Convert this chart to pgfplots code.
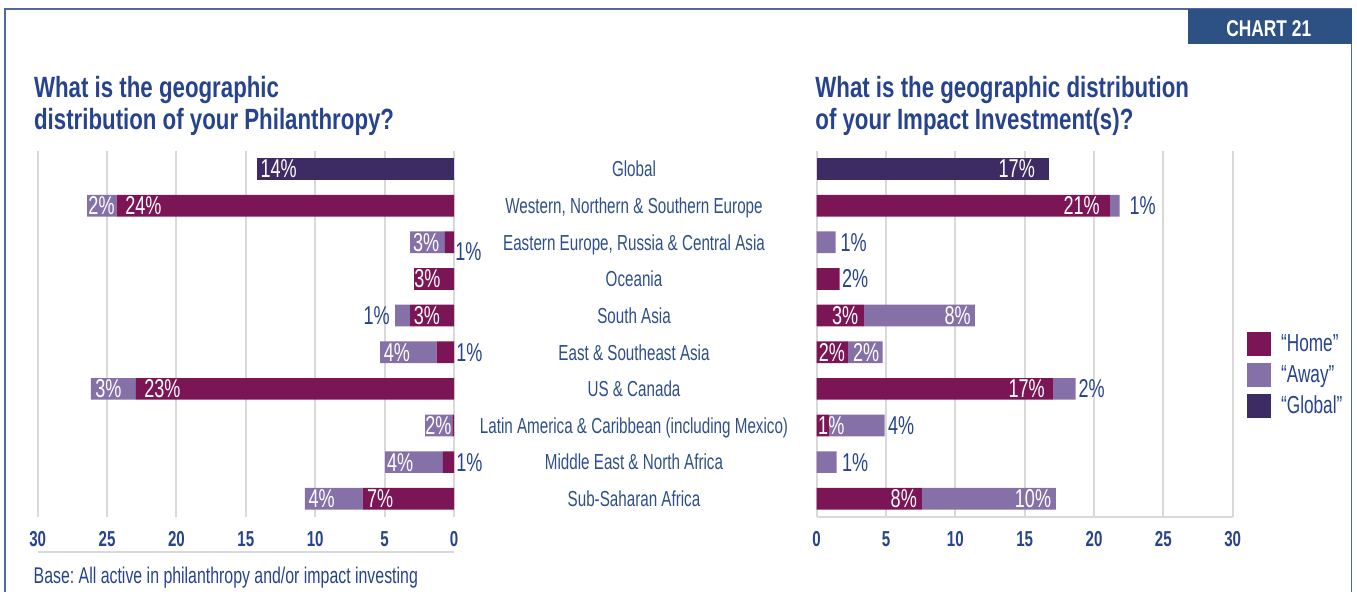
\documentclass[border=0pt]{standalone}
\usepackage{fontspec}
\setmainfont{Liberation Sans}[FakeStretch=0.7]
\newfontfamily\boldcond{Liberation Sans}[FakeStretch=0.76]
\usepackage{pgfplots}
\pgfplotsset{compat=1.18}
\usepackage{pgfplotstable}

\definecolor{home}{HTML}{7B1556}
\definecolor{away}{HTML}{8571A8}
\definecolor{global}{HTML}{3D2C63}
\definecolor{textblue}{HTML}{27438F}
\definecolor{catblue}{HTML}{2E4F88}
\definecolor{gridgray}{HTML}{D9D9D9}
\definecolor{frameblue}{HTML}{4D6A9B}
\definecolor{boxblue}{HTML}{2E5184}

\pgfplotstableread{
row home away global
0 0 0 14.22
1 24.31 2.12 0
2 0.65 2.52 0
3 2.88 0 0
4 3.17 1.08 0
5 1.25 4.08 0
6 22.92 3.24 0
7 0.12 1.97 0
8 0.81 4.16 0
9 6.58 4.16 0
}\philtable

\pgfplotstableread{
row home away global
0 0 0 16.73
1 21.15 0.7 0
2 0 1.36 0
3 1.66 0 0
4 3.41 8.0 0
5 2.25 2.5 0
6 17.03 1.64 0
7 0.92 3.97 0
8 0 1.43 0
9 7.58 9.66 0
}\imptable

\pgfplotsset{
  mybars/.style={
    xbar stacked, scale only axis, height=183.2pt,
    xmin=0, xmax=30, ymin=-0.5, ymax=9.5, y dir=reverse,
    bar width=10.85pt,
    xtick={0,5,...,30},
    xmajorgrids, major grid style={draw=gridgray, line width=1pt},
    major tick length=0pt,
    axis line style={draw=none},
    /pgf/number format/assume math mode=true,
    xticklabel style={anchor=center, yshift=-10.95pt, font=\bfseries\fontsize{10.8}{11}\selectfont, text=textblue},
    clip=false,
  },
}
\tikzset{
  wl/.style={text=white, font=\fontsize{12.9}{13}\selectfont, inner sep=0pt},
  bl/.style={text=textblue, font=\fontsize{12.9}{13}\selectfont, inner sep=0pt},
}

\begin{document}
\frenchspacing
\begin{tikzpicture}
\path[use as bounding box] (0,0) rectangle (678.5pt,295.5pt);

% frame and chart box
\draw[frameblue, line width=0.75pt] (2.5pt,-1pt) -- (2.5pt,291pt) -- (675.8pt,291pt) -- (675.8pt,-1pt);
\fill[boxblue] (593.9pt,273.35pt) rectangle (675.8pt,291pt);
\node[anchor=base, inner sep=0pt, text=white, font=\boldcond\bfseries\fontsize{11.4}{12}\selectfont] at (634.4pt,277.15pt) {CHART 21};

% titles
\node[anchor=base west, inner sep=0pt, text=textblue, font=\boldcond\bfseries\fontsize{14.65}{16}\selectfont] at (16.85pt,246.85pt) {What is the geographic};
\node[anchor=base west, inner sep=0pt, text=textblue, font=\boldcond\bfseries\fontsize{14.65}{16}\selectfont] at (16.85pt,230.85pt) {distribution of your Philanthropy?};
\node[anchor=base west, inner sep=0pt, text=textblue, font=\boldcond\bfseries\fontsize{14.65}{16}\selectfont] at (407.5pt,246.85pt) {What is the geographic distribution};
\node[anchor=base west, inner sep=0pt, text=textblue, font=\boldcond\bfseries\fontsize{14.65}{16}\selectfont] at (407.5pt,230.85pt) {of your Impact Investment(s)?};

% left chart: philanthropy
\begin{axis}[mybars, x dir=reverse, width=208.15pt, at={(122.93pt,128.55pt)}, anchor=center, ytick=\empty]
\addplot[fill=home, draw=none] table[x=home, y=row] {\philtable};
\addplot[fill=away, draw=none] table[x=away, y=row] {\philtable};
\addplot[fill=global, draw=none] table[x=global, y=row] {\philtable};
\coordinate (La) at (axis cs:13.97,0);
\coordinate (Lb) at (axis cs:26.37,1);
\coordinate (Lc) at (axis cs:23.71,1);
\coordinate (Ld) at (axis cs:2.97,2);
\coordinate (Le) at (axis cs:-0.07,2.25);
\coordinate (Lf) at (axis cs:2.88,3);
\coordinate (Lg) at (axis cs:4.61,4);
\coordinate (Lh) at (axis cs:2.93,4);
\coordinate (Li) at (axis cs:5.09,5);
\coordinate (Lj) at (axis cs:-0.14,5);
\coordinate (Lk) at (axis cs:25.87,6);
\coordinate (Ll) at (axis cs:22.34,6);
\coordinate (Lm) at (axis cs:2.09,7);
\coordinate (Ln) at (axis cs:4.85,8);
\coordinate (Lo) at (axis cs:-0.14,8);
\coordinate (Lp) at (axis cs:10.5,9);
\coordinate (Lq) at (axis cs:6.29,9);
\end{axis}
\node[wl, anchor=west] at (La) {14\%};
\node[wl, anchor=west] at (Lb) {2\%};
\node[wl, anchor=west] at (Lc) {24\%};
\node[wl, anchor=west] at (Ld) {3\%};
\node[bl, anchor=west] at (Le) {1\%};
\node[wl, anchor=west] at (Lf) {3\%};
\node[bl, anchor=east] at (Lg) {1\%};
\node[wl, anchor=west] at (Lh) {3\%};
\node[wl, anchor=west] at (Li) {4\%};
\node[bl, anchor=west] at (Lj) {1\%};
\node[wl, anchor=west] at (Lk) {3\%};
\node[wl, anchor=west] at (Ll) {23\%};
\node[wl, anchor=west] at (Lm) {2\%};
\node[wl, anchor=west] at (Ln) {4\%};
\node[bl, anchor=west] at (Lo) {1\%};
\node[wl, anchor=west] at (Lp) {4\%};
\node[wl, anchor=west] at (Lq) {7\%};

% right chart: impact investment
\begin{axis}[mybars, width=208pt, at={(512.35pt,128.55pt)}, anchor=center,
  ytick={0,...,9},
  yticklabels={Global, {Western, Northern \& Southern Europe}, {Eastern Europe, Russia \& Central Asia}, Oceania, South Asia, East \& Southeast Asia, US \& Canada, Latin America \& Caribbean (including Mexico), Middle East \& North Africa, Sub-Saharan Africa},
  yticklabel style={anchor=base, xshift=-91.35pt, yshift=-3.9pt, font=\fontsize{10.85}{12}\selectfont, text=catblue},
  legend image code/.code={\fill[#1] (0pt,-6pt) rectangle (12pt,6pt); \path (17pt,0pt);},
  legend cell align=left,
  legend style={at={(1.0337,0.506)}, anchor=north west, draw=none, fill=none, inner sep=0pt, row sep=3.5pt,
    font=\fontsize{12.3}{13}\selectfont, text=textblue, nodes={inner sep=0pt}},
]
\addplot[fill=home, draw=none] table[x=home, y=row] {\imptable};
\addplot[fill=away, draw=none] table[x=away, y=row] {\imptable};
\addplot[fill=global, draw=none] table[x=global, y=row] {\imptable};
\legend{“Home”, “Away”, “Global”}
\coordinate (Ra) at (axis cs:15.76,0);
\coordinate (Rb) at (axis cs:20.44,1);
\coordinate (Rc) at (axis cs:22.54,1);
\coordinate (Rd) at (axis cs:1.69,2);
\coordinate (Re) at (axis cs:1.8,3);
\coordinate (Rf) at (axis cs:3.02,4);
\coordinate (Rg) at (axis cs:11.14,4);
\coordinate (Rh) at (axis cs:0.13,5);
\coordinate (Ri) at (axis cs:2.59,5);
\coordinate (Rj) at (axis cs:16.47,6);
\coordinate (Rk) at (axis cs:18.86,6);
\coordinate (Rl) at (axis cs:0.08,7);
\coordinate (Rm) at (axis cs:5.12,7);
\coordinate (Rn) at (axis cs:1.8,8);
\coordinate (Ro) at (axis cs:7.25,9);
\coordinate (Rp) at (axis cs:16.93,9);
\end{axis}
\node[wl, anchor=east] at (Ra) {17\%};
\node[wl, anchor=east] at (Rb) {21\%};
\node[bl, anchor=west] at (Rc) {1\%};
\node[bl, anchor=west] at (Rd) {1\%};
\node[bl, anchor=west] at (Re) {2\%};
\node[wl, anchor=east] at (Rf) {3\%};
\node[wl, anchor=east] at (Rg) {8\%};
\node[wl, anchor=west] at (Rh) {2\%};
\node[wl, anchor=west] at (Ri) {2\%};
\node[wl, anchor=east] at (Rj) {17\%};
\node[bl, anchor=west] at (Rk) {2\%};
\node[wl, anchor=west] at (Rl) {1\%};
\node[bl, anchor=west] at (Rm) {4\%};
\node[bl, anchor=west] at (Rn) {1\%};
\node[wl, anchor=east] at (Ro) {8\%};
\node[wl, anchor=east] at (Rp) {10\%};

% extra lines
\draw[gridgray, line width=1pt] (18.85pt,19.65pt) -- (227pt,19.65pt);
\draw[gridgray, line width=1pt] (408.35pt,36.95pt) -- (616.35pt,36.95pt);

% footnote
\node[anchor=base west, inner sep=0pt, text=textblue, font=\fontsize{11.35}{12}\selectfont] at (16.65pt,3.85pt) {Base: All active in philanthropy and/or impact investing};
\end{tikzpicture}
\end{document}
